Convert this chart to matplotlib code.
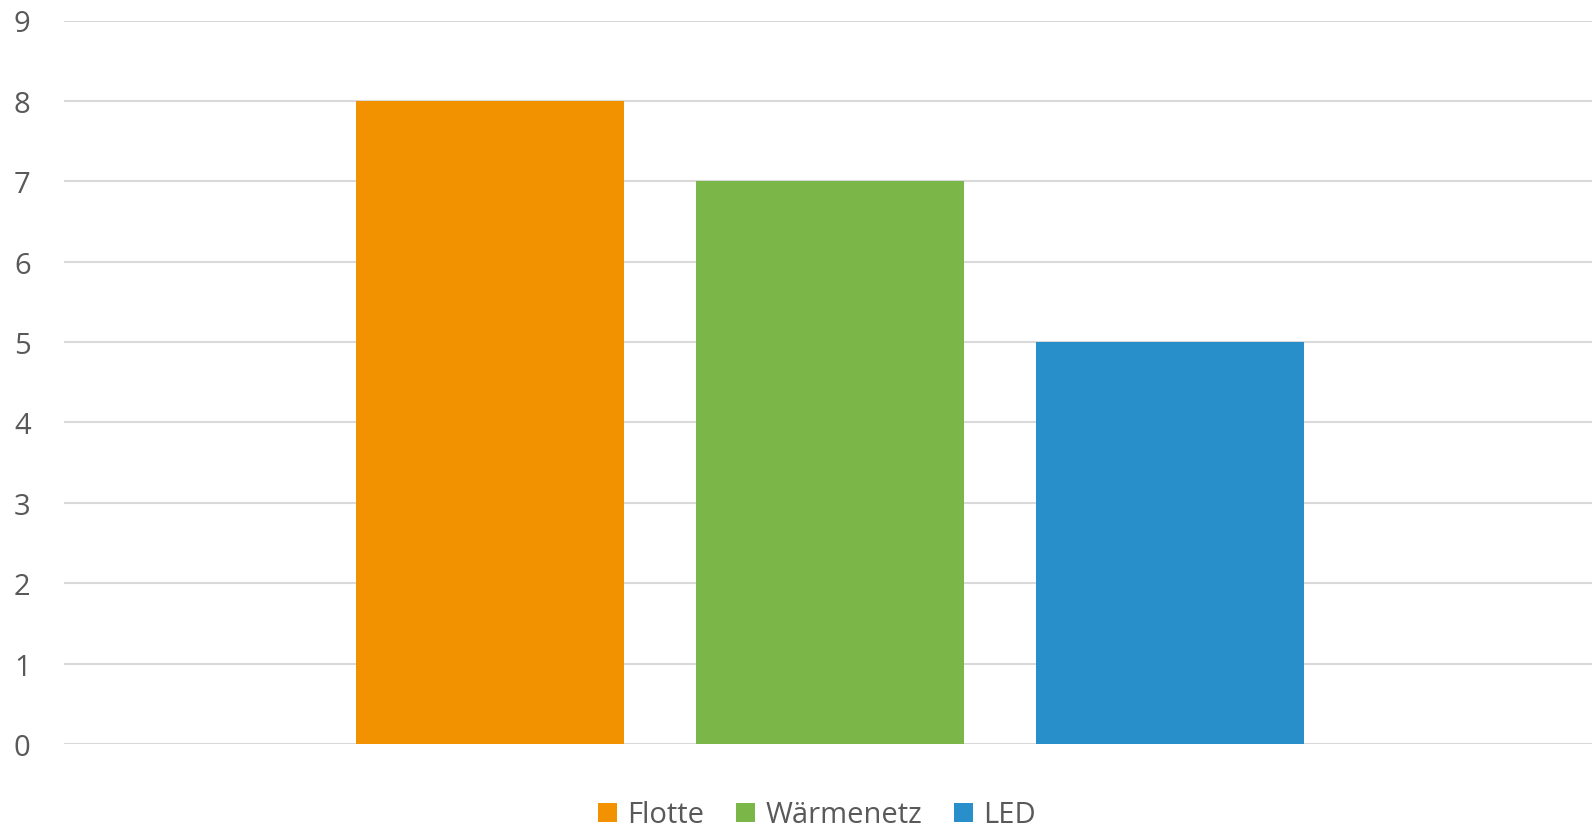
import numpy as np
import matplotlib.pyplot as plt

series = ["Flotte", "Wärmenetz", "LED"]
values = [8, 7, 5]
colors = ["#F39200", "#7AB648", "#298FCA"]
yticks = list(range(0, 10))

plt.rcParams['font.family'] = ['Open Sans', 'DejaVu Sans']
text_col = "#595959"

fig = plt.figure(figsize=(15.92, 8.28), dpi=100)
ax = fig.add_axes([64 / 1592, 1 - 745 / 828, 1 - 64 / 1592, (745 - 21.5) / 828])

x = np.arange(len(series))
for i in range(len(series)):
    ax.bar(x[i], values[i], width=0.79, color=colors[i], label=series[i], zorder=3)

ax.set_xlim(1 - 2.253, 1 + 2.241)
ax.set_ylim(0, 9)
ax.set_yticks(yticks)
ax.set_xticks([])
ax.grid(axis='y', color="#D9D9D9", linewidth=1.5, zorder=0)
for s in ax.spines.values():
    s.set_visible(False)
ax.tick_params(axis='y', length=0, pad=24, labelsize=21, labelcolor=text_col)

leg = fig.legend(loc='center', bbox_to_anchor=(0.513, 0.0145), ncol=3, frameon=False,
                 fontsize=21, handlelength=0.65, handleheight=0.65,
                 handletextpad=0.35, columnspacing=1.1, borderaxespad=0, borderpad=0)
for t in leg.get_texts():
    t.set_color(text_col)

fig.savefig("out.png", dpi=100)
